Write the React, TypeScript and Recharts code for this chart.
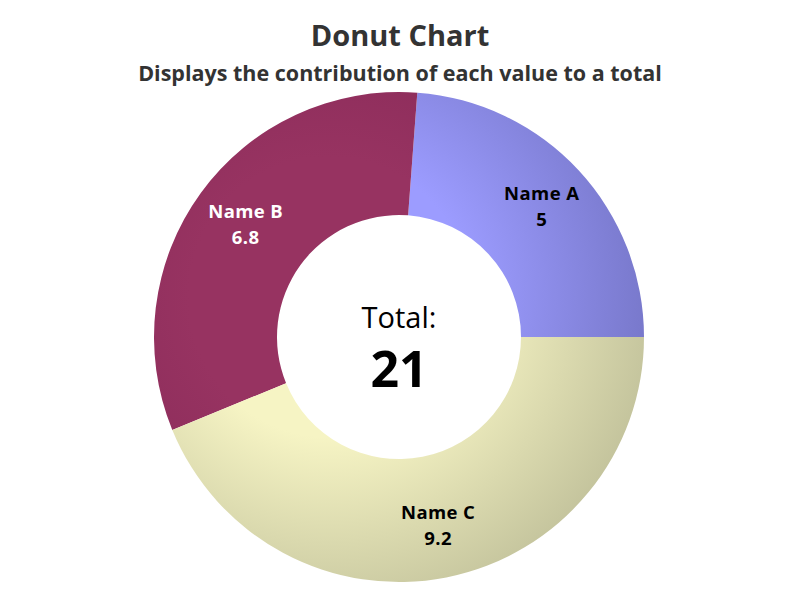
import React from 'react';
import { PieChart, Pie, Cell, Label } from 'recharts';

const names = ['Name A', 'Name B', 'Name C'];
const values = [5, 6.8, 9.2];
const lightColors = ['#9c9cff', '#973361', '#f6f4c4'];
const darkColors = ['#7272c2', '#842756', '#bebe98'];
const labelColors = ['#000000', '#ffffff', '#000000'];

const data = names.map((name, i) => ({ name, value: values[i] }));
const total = values.reduce((a, b) => a + b, 0);

const CX = 399;
const CY = 337;
const RAD = Math.PI / 180;
const FONT = "'Open Sans', sans-serif";

const renderLabel = (props: any) => {
  const { cx, cy, midAngle, index } = props;
  const r = 192;
  const x = cx + r * Math.cos(-midAngle * RAD) + 2;
  const y = cy + r * Math.sin(-midAngle * RAD);
  return (
    <text
      x={x}
      y={y}
      textAnchor="middle"
      fill={labelColors[index]}
      fontFamily={FONT}
      fontWeight={700}
      fontSize={18.5}
      letterSpacing={0.4}
    >
      <tspan x={x} dy={-6}>{data[index].name}</tspan>
      <tspan x={x} dy={25.5}>{data[index].value}</tspan>
    </text>
  );
};

export default function App() {
  return (
    <div style={{ position: 'absolute', left: 0, top: 0, width: 800, height: 600, background: '#fff' }}>
      <svg width={800} height={100} style={{ position: 'absolute', left: 0, top: 0 }}>
        <text x={400} y={46} textAnchor="middle" fontFamily={FONT} fontWeight={700} fontSize={29} fill="#333">
          Donut Chart
        </text>
        <text x={400} y={81} textAnchor="middle" fontFamily={FONT} fontWeight={700} fontSize={21.5} fill="#333">
          Displays the contribution of each value to a total
        </text>
      </svg>
      <PieChart
        width={800}
        height={600}
        margin={{ top: 0, right: 0, bottom: 0, left: 0 }}
        style={{ position: 'absolute', left: 0, top: 0 }}
      >
        <defs>
          {names.map((n, i) => (
            <radialGradient key={n} id={`grad${i}`} gradientUnits="userSpaceOnUse" cx={CX - 70} cy={CY - 40} r={350}>
              <stop offset="0%" stopColor={lightColors[i]} />
              <stop offset="40%" stopColor={lightColors[i]} />
              <stop offset="100%" stopColor={darkColors[i]} />
            </radialGradient>
          ))}
        </defs>
        <Pie
          data={data}
          dataKey="value"
          nameKey="name"
          cx={CX}
          cy={CY}
          innerRadius={122}
          outerRadius={245}
          startAngle={0}
          endAngle={360}
          stroke="none"
          labelLine={false}
          label={renderLabel}
          isAnimationActive={false}
        >
          {data.map((d, i) => (
            <Cell key={d.name} fill={`url(#grad${i})`} />
          ))}
          <Label
            position="center"
            content={() => (
              <g fontFamily={FONT} textAnchor="middle" fill="#000">
                <text x={CX} y={CY - 9} fontSize={29}>Total:</text>
                <text x={CX} y={CY + 50} fontSize={50} fontWeight={700}>{total}</text>
              </g>
            )}
          />
        </Pie>
      </PieChart>
    </div>
  );
}
